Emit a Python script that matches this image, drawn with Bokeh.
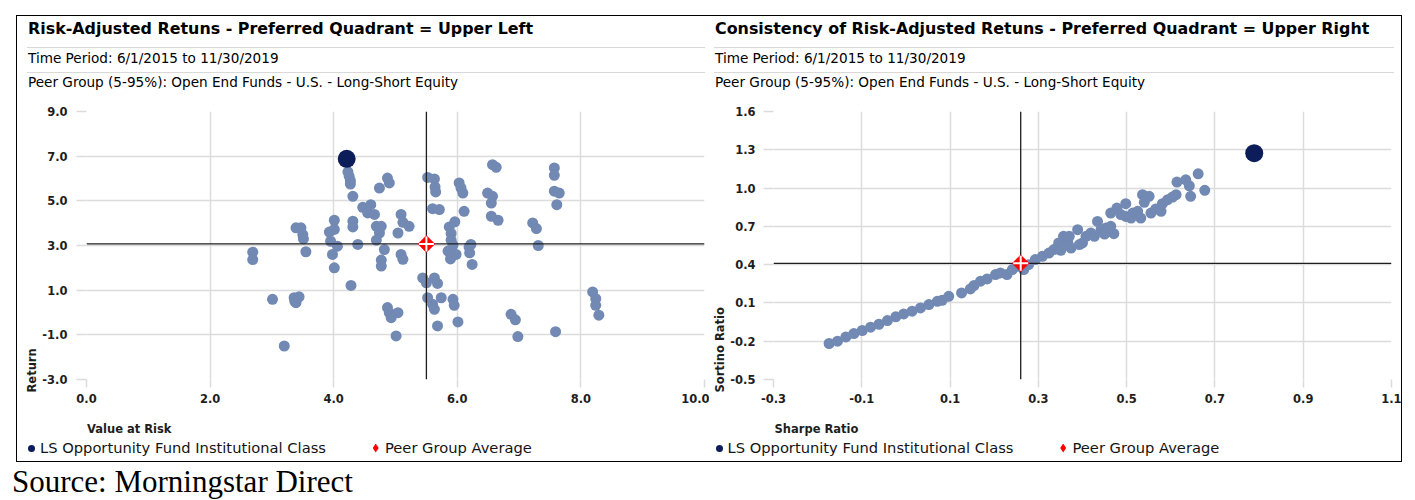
import math
from bokeh.plotting import figure
from bokeh.models import Range1d, FixedTicker, PrintfTickFormatter, Div, Title
from bokeh.layouts import row, column
from bokeh.embed import file_html
from bokeh.resources import INLINE

# ---------------- data ----------------
# Left chart: Value at Risk (x) vs Return (y)
var_peer = [2.69, 2.69, 3.01, 3.20, 3.36, 3.39, 3.44, 3.37,
            3.39, 3.47, 3.50, 3.51, 3.55,
            3.93, 4.01, 4.01, 3.95, 4.06, 3.98, 4.01,
            4.23, 4.25, 4.27, 4.27, 4.31,
            4.31, 4.31, 4.39, 4.28,
            4.47, 4.60, 4.55, 4.66, 4.74, 4.87, 4.90,
            4.69, 4.77, 4.74, 4.69, 4.82, 4.77, 4.77,
            5.04, 5.09, 5.12, 5.22, 5.09, 5.12,
            4.87, 4.90, 4.93, 5.04, 5.01,
            5.52, 5.63, 5.64, 5.65, 5.60, 5.71,
            5.44, 5.50, 5.63, 5.68, 5.52, 5.60, 5.63, 5.74, 5.68,
            5.87, 5.90, 5.96, 5.90, 5.93, 5.85, 5.89, 5.98,
            5.93, 5.95, 6.01,
            6.03, 6.06, 6.09, 6.11,
            6.22, 6.19, 6.20, 6.24,
            6.49, 6.57, 6.55, 6.57, 6.63, 6.55, 6.66,
            7.22, 7.28, 7.31, 7.57, 7.57, 7.57, 7.65, 7.61, 7.59,
            6.87, 6.94, 6.98,
            8.19, 8.24, 8.24, 8.29]
ret_peer = [2.70, 2.37, 0.59, -1.50, 0.66, 0.44, 0.70, 0.50,
            3.79, 3.79, 3.49, 3.30, 2.72,
            3.60, 3.72, 4.13, 3.19, 2.97, 2.60, 2.00,
            6.30, 6.10, 5.90, 5.75, 5.20,
            4.09, 3.83, 3.05, 1.21,
            4.71, 4.83, 4.46, 4.39, 5.57, 6.02, 5.80,
            3.86, 3.86, 3.56, 3.24, 2.82, 2.35, 2.08,
            3.56, 4.39, 4.04, 3.86, 2.60, 2.38,
            0.22, -0.01, -0.23, -0.01, -1.05,
            6.05, 5.98, 5.62, 5.40, 4.65, 4.61,
            1.55, 1.33, 1.55, 1.30, 0.66, 0.37, 0.14, 0.66, -0.60,
            3.83, 3.54, 4.06, 3.24, 3.02, 2.75, 2.40, 2.60,
            0.59, 0.32, -0.42,
            5.80, 5.57, 5.35, 4.53,
            3.05, 2.93, 2.67, 2.15,
            5.35, 5.20, 4.90, 6.62, 6.50, 4.31, 4.13,
            4.01, 3.76, 3.00, 6.47, 6.14, 5.43, 5.35, 4.83, -0.86,
            -0.08, -0.33, -1.08,
            0.92, 0.62, 0.32, -0.12]
fund_var = [4.21]
fund_ret = [6.88]
avg_var = [5.50]
avg_ret = [3.07]

# Right chart: Sharpe Ratio (x) vs Sortino Ratio (y)
sharpe_peer = [-0.174, -0.155, -0.136, -0.118, -0.099, -0.080, -0.061, -0.042,
               -0.023, -0.005, 0.014, 0.033, 0.052, 0.071, 0.082, 0.097,
               0.126, 0.146, 0.154, 0.169, 0.184, 0.203, 0.214, 0.229,
               0.241, 0.252, 0.267, 0.278, 0.293, 0.309, 0.324, 0.335,
               0.346, 0.357, 0.351, 0.367, 0.370, 0.389, 0.400, 0.408,
               0.419, 0.434, 0.442, 0.453, 0.464, 0.471, 0.464, 0.478,
               0.487, 0.498, 0.498, 0.514, 0.525, 0.532, 0.536, 0.551,
               0.540, 0.555, 0.566, 0.578, 0.581, 0.593, 0.604, 0.612,
               0.614, 0.634, 0.642, 0.645, 0.662, 0.677,
               0.374, 0.393, 0.427, 0.450, 0.510]
sortino_peer = [-0.218, -0.200, -0.166, -0.140, -0.116, -0.090, -0.067, -0.038,
                -0.009, 0.014, 0.035, 0.061, 0.087, 0.113, 0.121, 0.152,
                0.178, 0.210, 0.236, 0.270, 0.288, 0.322, 0.335, 0.322,
                0.361, 0.387, 0.361, 0.400, 0.440, 0.465, 0.491, 0.518,
                0.570, 0.622, 0.512, 0.570, 0.622, 0.674, 0.570, 0.622,
                0.648, 0.739, 0.674, 0.687, 0.700, 0.643, 0.804, 0.843,
                0.792, 0.878, 0.778, 0.804, 0.818, 0.765, 0.948, 0.935,
                0.888, 0.804, 0.836, 0.818, 0.878, 0.909, 0.930, 0.948,
                1.047, 1.065, 1.018, 0.935, 1.112, 0.982,
                0.530, 0.557, 0.622, 0.640, 0.765]
fund_sharpe = [0.789]
fund_sortino = [1.273]
avg_sharpe = [0.260]
avg_sortino = [0.410]

left_xticks = [0.0, 2.0, 4.0, 6.0, 8.0, 10.0]
left_yticks = [-3.0, -1.0, 1.0, 3.0, 5.0, 7.0, 9.0]
right_xticks = [-0.3, -0.1, 0.1, 0.3, 0.5, 0.7, 0.9, 1.1]
right_yticks = [-0.5, -0.2, 0.1, 0.4, 0.7, 1.0, 1.3, 1.6]

fund_name = "LS Opportunity Fund Institutional Class"
avg_name = "Peer Group Average"

# ---------------- styles ----------------
GRID = "#dcdcdc"
PEER = "#7189b3"
NAVY = "#0c1d59"
RED = "#ff0000"
TXT = "#1e1e1e"
FONT = "DejaVu Sans"
FW, FH = 618, 268


def make_fig(xticks, yticks, xs, ys, fx, fy, ax_, ay_, ylabel,
             border_left, border_right, ystandoff):
    x0, x1 = xticks[0], xticks[-1]
    y0, y1 = yticks[0], yticks[-1]
    p = figure(frame_width=FW, frame_height=FH,
               min_border_left=border_left, min_border_right=border_right,
               min_border_top=18, min_border_bottom=36,
               x_range=Range1d(x0, x1), y_range=Range1d(y0, y1),
               output_backend="svg", toolbar_location=None, tools="")
    p.outline_line_color = None
    p.background_fill_color = "white"
    p.border_fill_color = "white"

    for ax, ticks, tout, sto in [(p.xaxis[0], xticks, 8, 6),
                                 (p.yaxis[0], yticks, 10, ystandoff)]:
        ax.ticker = FixedTicker(ticks=ticks)
        ax.formatter = PrintfTickFormatter(format="%.1f")
        ax.axis_line_color = None
        ax.major_tick_line_color = GRID
        ax.major_tick_line_width = 1.5
        ax.major_tick_out = tout
        ax.major_tick_in = 0
        ax.minor_tick_line_color = None
        ax.major_label_standoff = sto
        ax.major_label_text_font = FONT
        ax.major_label_text_font_style = "bold"
        ax.major_label_text_font_size = "11.5px"
        ax.major_label_text_color = TXT

    # vertical axis title, set at the lower end of the axis
    p.add_layout(Title(text=ylabel, align="left", offset=-13, standoff=0,
                       vertical_align="middle", text_font=FONT,
                       text_font_style="bold", text_font_size="11.5px",
                       text_color=TXT), "left")

    for g in (p.xgrid[0], p.ygrid[0]):
        g.grid_line_color = GRID
        g.grid_line_width = 1.5

    # peer funds
    p.scatter(xs, ys, size=11, marker="circle", fill_color=PEER,
              line_color=None)
    # crosshair through the peer group average
    p.segment(x0=[x0], x1=[x1], y0=ay_, y1=ay_, line_color=TXT,
              line_width=1.3)
    p.segment(x0=ax_, x1=ax_, y0=[y0], y1=[y1], line_color=TXT,
              line_width=1.3)
    # peer group average marker
    p.scatter(ax_, ay_, marker="square", size=12, angle=math.pi / 4,
              fill_color=RED, line_color=RED, line_width=0.5)
    p.scatter(ax_, ay_, marker="cross", size=15, line_color="white",
              line_width=2)
    # the fund
    p.scatter(fx, fy, marker="circle", size=18, fill_color=NAVY,
              line_color=None)
    return p


def header(text, width, height, lh, ml, size, weight, line=True):
    border = "border-bottom:1px solid #d9d9d9;" if line else ""
    html = (f'<div style="width:{width}px;height:{height}px;'
            f'box-sizing:border-box;{border}font-family:\'DejaVu Sans\';'
            f'font-size:{size}px;font-weight:{weight};line-height:{lh}px;'
            f'color:#000;padding-left:1px;white-space:nowrap;'
            f'overflow:hidden;">{text}</div>')
    return Div(text=html, width=width, height=height, margin=(0, 0, 0, ml))


def foot_div(xlabel, off):
    # x-axis title and legend underneath a chart; off = horizontal shift
    html = (
        '<div style="position:relative;width:692px;height:46px;'
        'font-family:\'DejaVu Sans\';color:#141414;white-space:nowrap;">'
        f'<span style="position:absolute;left:{70 + off}px;top:7px;'
        f'font-size:11.5px;font-weight:bold;line-height:14px;color:{TXT};">'
        f'{xlabel}</span>'
        f'<span style="position:absolute;left:{11.2 + off}px;top:29.5px;'
        f'width:7px;height:7px;border-radius:50%;background:{NAVY};"></span>'
        f'<span style="position:absolute;left:{23 + off}px;top:23px;'
        f'font-size:14.7px;line-height:20px;">{fund_name}</span>'
        f'<span style="position:absolute;left:{355.7 + off}px;top:28.5px;'
        f'width:6px;height:9px;background:{RED};'
        'clip-path:polygon(50% 0,100% 50%,50% 100%,0 50%);"></span>'
        f'<span style="position:absolute;left:{368 + off}px;top:23px;'
        f'font-size:14.7px;line-height:20px;">{avg_name}</span></div>')
    return Div(text=html, width=692, height=46, margin=(0, 0, 0, 0))


def panel(title, fig, xlabel, ml, w, off):
    return column(
        header(title, w, 32, 26, ml, 15.9, "bold"),
        header("Time Period: 6/1/2015 to 11/30/2019", w, 25, 21, ml, 13.6,
               "normal"),
        header("Peer Group (5-95%): Open End Funds - U.S. - Long-Short Equity",
               w, 20, 19, ml, 13.6, "normal", line=False),
        fig, foot_div(xlabel, off), margin=(0, 0, 0, 0))


left = make_fig(left_xticks, left_yticks, var_peer, ret_peer, fund_var,
                fund_ret, avg_var, avg_ret, "Return", 69, 5, 9)
right = make_fig(right_xticks, right_yticks, sharpe_peer, sortino_peer,
                 fund_sharpe, fund_sortino, avg_sharpe, avg_sortino,
                 "Sortino Ratio", 64, 10, 8)

left_panel = panel("Risk-Adjusted Retuns - Preferred Quadrant = Upper Left",
                   left, "Value at Risk", 10, 678, 0)
right_panel = panel(
    "Consistency of Risk-Adjusted Retuns - Preferred Quadrant = Upper Right",
    right, "Sharpe Ratio", 5, 680, -4.5)

box = row(left_panel, right_panel, margin=(15, 0, 0, 16),
          styles={"border": "1px solid #000"})

src = Div(text='<div style="font-family:\'Liberation Serif\';font-size:31px;'
               'line-height:30px;color:#000;white-space:nowrap;">'
               'Source: Morningstar Direct</div>',
          width=420, height=30, margin=(5, 0, 0, 12))

root = column(box, src, margin=(0, 0, 0, 0))

open("out.html", "w").write(file_html(root, INLINE))
